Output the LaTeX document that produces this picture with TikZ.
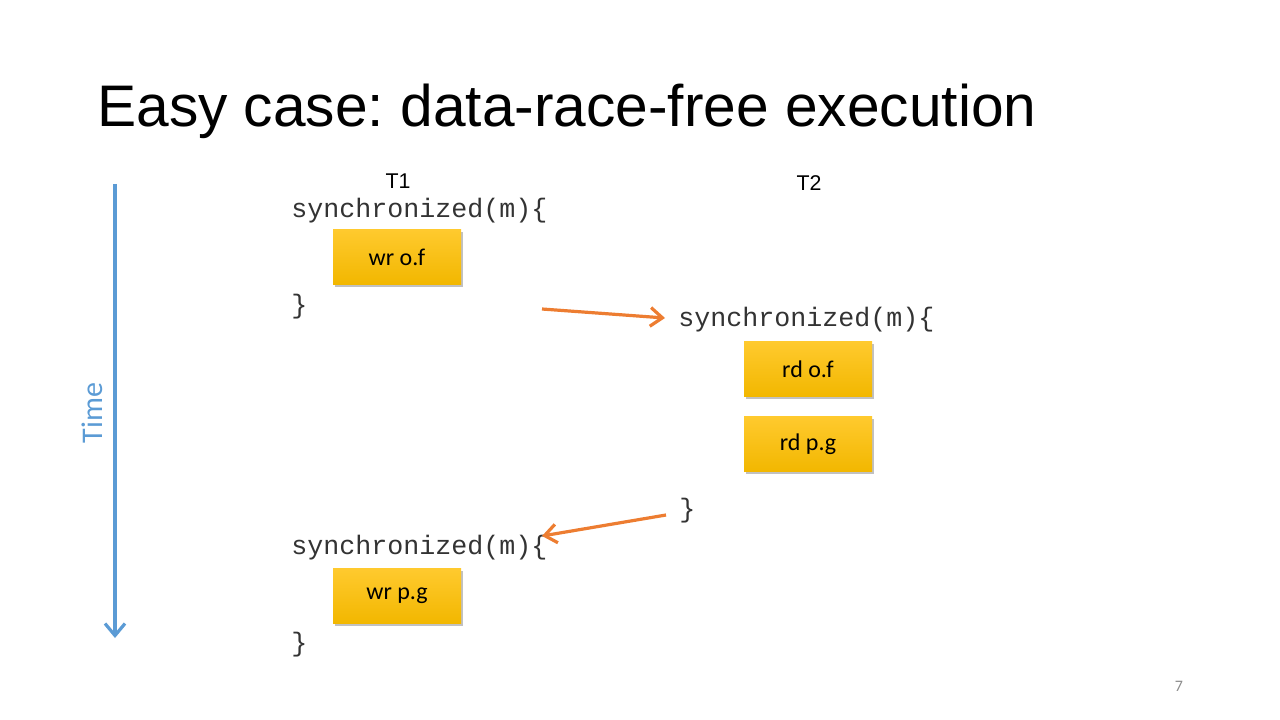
\documentclass[tikz,border=0pt]{standalone}
\usepackage{fontspec}
\setmainfont{Carlito}
\newfontfamily\arialfont{Liberation Sans}
\newfontfamily\codefont{Liberation Mono}
\usetikzlibrary{arrows.meta,shadows}
\frenchspacing
\definecolor{timeblue}{HTML}{5B9BD5}
\definecolor{orangearrow}{HTML}{ED7D31}
\definecolor{goldtop}{HTML}{FFCA2E}
\definecolor{goldbot}{HTML}{F2B700}
\tikzset{
  opbox/.style={rectangle, minimum width=128*0.75pt, minimum height=55*0.75pt,
    top color=goldtop, bottom color=goldbot, draw=none, inner sep=0pt,
    font=\fontsize{18}{21}\selectfont,
    drop shadow={shadow xshift=1.2pt, shadow yshift=-2pt, opacity=0.35, fill=black!70}},
  code/.style={anchor=west, inner sep=0pt, text=black!80, font=\codefont\fontsize{20}{24}\selectfont},
  thread/.style={inner sep=0pt, font=\arialfont\fontsize{16}{19}\selectfont},
  sync/.style={draw=orangearrow, line width=2.4pt, -{Straight Barb[length=9pt,width=14pt,line width=2.4pt]}}
}
\begin{document}
\begin{tikzpicture}[x=0.75pt,y=-0.75pt]
\useasboundingbox (0,0) rectangle (1280,720);
% title
\node[anchor=base west, inner sep=0pt, font=\arialfont\fontsize{44}{50}\selectfont] (title) at (97,127) {Easy case: data-race-free execution};
% time axis
\coordinate (tstart) at (115,184);
\coordinate (tend) at (115,638);
\draw[draw=timeblue, line width=2.4pt, -{Straight Barb[length=9pt,width=15pt,line width=2.4pt]}] (tstart) -- (tend);
\node[rotate=90, text=timeblue, inner sep=0pt, font=\fontsize{22.5}{26}\selectfont] (time) at (92,413) {Time};
% threads
\node[thread] (t1) at (398,181) {T1};
\node[thread] (t2) at (809,183) {T2};
% T1 first block
\node[code] (s1) at (291,211) {synchronized(m)\{};
\node[opbox] (wrof) at (397,257) {wr o.f};
\node[code] (e1) at (291,307) {\}};
% T2 block
\node[code] (s2) at (678,320) {synchronized(m)\{};
\node[opbox] (rdof) at (808,369) {rd o.f};
\node[opbox] (rdpg) at (808,444) {rd p.g};
\node[code] (e2) at (679,511) {\}};
% T1 second block
\node[code] (s3) at (291,548) {synchronized(m)\{};
\node[opbox] (wrpg) at (397,596) {wr p.g};
\node[code] (e3) at (291,645) {\}};
% sync arrows
\coordinate (a1s) at (542,309);
\coordinate (a1e) at (665,318);
\draw[sync] (a1s) -- (a1e);
\coordinate (a2s) at (666,515);
\coordinate (a2e) at (542,536);
\draw[sync] (a2s) -- (a2e);
% page number
\node[text=black!45, inner sep=0pt, font=\fontsize{12}{14}\selectfont] (pg) at (1179,686) {7};
\end{tikzpicture}
\end{document}
